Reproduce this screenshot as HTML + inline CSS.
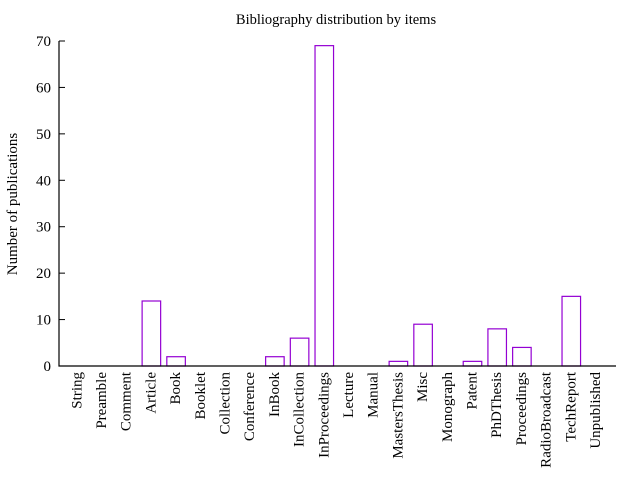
<!DOCTYPE html>
<html><head><meta charset="utf-8"><style>
body{margin:0;background:#fff}
svg text{font-family:"Liberation Serif",serif;font-size:15px;fill:#000}
</style></head><body>
<svg id="c" width="640" height="480">
<text x="336" y="24" text-anchor="middle" style="font-size:14.5px">Bibliography distribution by items</text>
<text transform="translate(17,204) rotate(-90)" text-anchor="middle">Number of publications</text>
<g id="g"></g>
</svg>
<script>
const categories=["String","Preamble","Comment","Article","Book","Booklet","Collection","Conference","InBook","InCollection","InProceedings","Lecture","Manual","MastersThesis","Misc","Monograph","Patent","PhDThesis","Proceedings","RadioBroadcast","TechReport","Unpublished"];
const values=[0,0,0,14,2,0,0,0,2,6,69,0,0,1,9,0,1,8,4,0,15,0];
const yTicks=[0,10,20,30,40,50,60,70];
const L=59,R=616,T=41,B=366,xmin=-0.74,xmax=21.81;
const X=v=>L+(v-xmin)/(xmax-xmin)*(R-L);
const Y=v=>B-v/70*(B-T);
const g=document.getElementById('g');
const NS='http://www.w3.org/2000/svg';
function mk(t,a){const e=document.createElementNS(NS,t);for(const k in a)e.setAttribute(k,a[k]);g.appendChild(e);return e;}
yTicks.forEach(v=>{
 const t=mk('line',{x1:L,x2:L+6,y1:Y(v),y2:Y(v),stroke:'#000'});
 
 
 const l=mk('text',{x:L-8,y:Y(v)+5,'text-anchor':'end'});l.textContent=v;
 
 
});
const bw=0.75*(X(1)-X(0));
categories.forEach((c,i)=>{
 const cx=X(i);
 if(values[i]>0){
  const r=mk('rect',{x:cx-bw/2,y:Y(values[i]),width:bw,height:B-Y(values[i]),fill:'none',stroke:'#9400d3','stroke-width':1.2});
  
  
 }
 const t=mk('text',{transform:`translate(${cx+4},372) rotate(-90)`,'text-anchor':'end'});t.textContent=c;
 
 
});
const ax=mk('path',{d:`M${L},${T}V${B}H${R}`,fill:'none',stroke:'#000','stroke-width':1.2});


</script>
</body></html>
